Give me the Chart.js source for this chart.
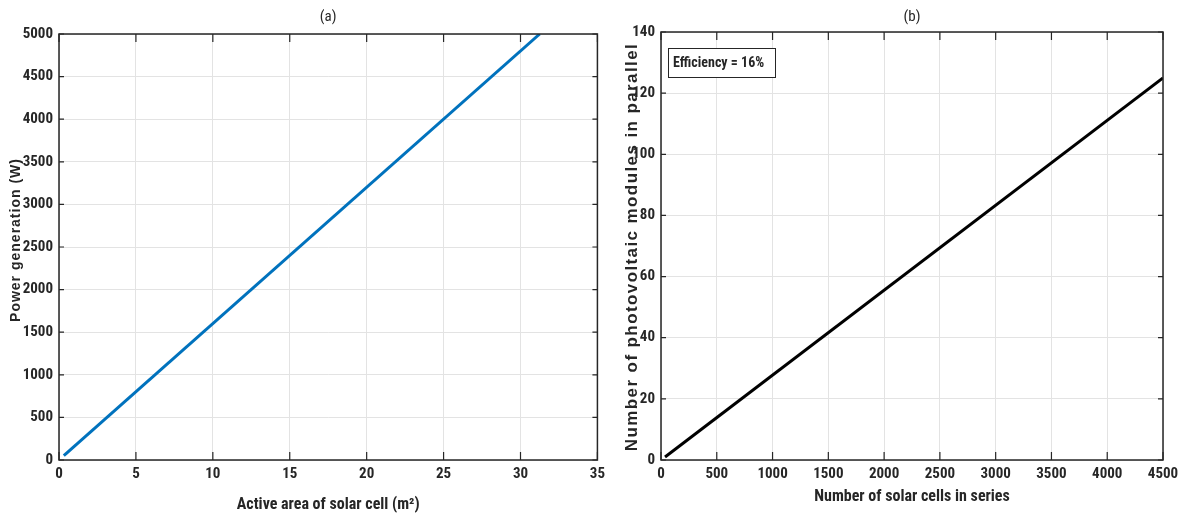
<!DOCTYPE html>
<html><head><meta charset="utf-8">
<script src="https://cdn.jsdelivr.net/npm/chart.js@4.4.0/dist/chart.umd.min.js"></script>
<style>
html,body{margin:0;padding:0;background:#fff;}
#wrap{position:relative;width:1192px;height:518px;}
#ca{position:absolute;left:0;top:0;}
#cb{position:absolute;left:610px;top:0;}
</style></head><body>
<div id="wrap">
<canvas id="ca" width="610" height="518"></canvas>
<canvas id="cb" width="582" height="518"></canvas>
</div>
<script>
// ---- data ----
const areaX = [0.3125, 31.25];          // m^2
const powerY = [50, 5000];              // W
const cellsX = [36, 4500];              // cells in series
const modulesY = [1, 125];              // modules in parallel
const titleA = '(a)', titleB = '(b)';
const xTitleA = 'Active area of solar cell (m\u00B2)';
const yTitleA = 'Power generation (W)';
const xTitleB = 'Number of solar cells in series';
const yTitleB = 'Number of photovoltaic modules in parallel';
const annotB = 'Efficiency = 16%';

const NARROW = "'Liberation Sans Narrow','Arial Narrow','Roboto Condensed','Liberation Sans',Arial,sans-serif";
const WIDE = "'Liberation Sans',Arial,sans-serif";
const TXT = '#262626';

const matlabPlugin = {
  id: 'matlab',
  afterDraw(chart, args, opts) {
    const ctx = chart.ctx;
    const {left, right, top, bottom} = chart.chartArea;
    const xs = chart.scales.x, ys = chart.scales.y;
    ctx.save();
    ctx.strokeStyle = TXT;
    ctx.lineWidth = 1.5;
    ctx.strokeRect(left, top, right - left, bottom - top);
    ctx.lineWidth = 1.2;
    ctx.beginPath();
    xs.ticks.forEach(t => {
      const p = xs.getPixelForValue(t.value);
      ctx.moveTo(p, bottom); ctx.lineTo(p, bottom - 8);
      ctx.moveTo(p, top); ctx.lineTo(p, top + 8);
    });
    ys.ticks.forEach(t => {
      const p = ys.getPixelForValue(t.value);
      ctx.moveTo(left, p); ctx.lineTo(left + 5, p);
      ctx.moveTo(right, p); ctx.lineTo(right - 5, p);
    });
    ctx.stroke();
    // title
    ctx.fillStyle = TXT;
    ctx.font = "15px " + NARROW;
    ctx.textAlign = 'center'; ctx.textBaseline = 'middle';
    ctx.fillText(opts.title, (left + right) / 2, 17);
    // y title
    ctx.save();
    ctx.translate(opts.yTitleX, (top + bottom) / 2 + opts.yTitleDy);
    ctx.rotate(-Math.PI / 2);
    ctx.font = "bold " + opts.yTitleSize + "px " + WIDE;
    ctx.letterSpacing = opts.yTitleSpacing + 'px';
    ctx.fillText(opts.yTitle, 0, 0);
    ctx.restore();
    // annotation
    if (opts.annot) {
      const bx = left + 7, by = top + 16, bw = 107, bh = 29;
      ctx.fillStyle = '#fff';
      ctx.fillRect(bx, by, bw, bh);
      ctx.strokeStyle = TXT; ctx.lineWidth = 1;
      ctx.strokeRect(bx + 0.5, by + 0.5, bw, bh);
      ctx.fillStyle = TXT;
      ctx.font = "bold 14px " + NARROW;
      ctx.textAlign = 'left';
      ctx.fillText(opts.annot, bx + 5, by + bh / 2 + 1);
    }
    ctx.restore();
  }
};

function makeChart(id, xs, ys, color, xmin, xmax, xstep, ymin, ymax, ystep, pad, yAxisW, xTitle, pluginOpts) {
  const plain = v => String(v);
  return new Chart(document.getElementById(id), {
    type: 'line',
    data: { datasets: [{ data: xs.map((v, i) => ({x: v, y: ys[i]})), borderColor: color, borderWidth: 3, pointRadius: 0, tension: 0, fill: false }] },
    options: {
      responsive: false, animation: false, events: [],
      layout: { padding: pad },
      plugins: { legend: {display: false}, tooltip: {enabled: false}, title: {display: false}, matlab: pluginOpts },
      scales: {
        x: { type: 'linear', min: xmin, max: xmax,
             ticks: { stepSize: xstep, callback: plain, color: TXT, font: {family: NARROW, size: 15, weight: 'bold'}, padding: 5, maxRotation: 0, autoSkip: false },
             grid: { color: '#e3e3e3', drawTicks: false, lineWidth: 1 }, border: {display: false},
             title: { display: true, text: xTitle, color: TXT, font: {family: NARROW, size: 16, weight: 'bold'}, padding: {top: 8, bottom: 0} },
             afterFit: s => { s.height = 518 - 460 - pad.bottom; } },
        y: { type: 'linear', min: ymin, max: ymax,
             ticks: { stepSize: ystep, callback: plain, color: TXT, font: {family: NARROW, size: 15, weight: 'bold'}, padding: 6, autoSkip: false },
             grid: { color: '#e3e3e3', drawTicks: false, lineWidth: 1 }, border: {display: false},
             afterFit: s => { s.width = yAxisW; } }
      }
    },
    plugins: [matlabPlugin]
  });
}

makeChart('ca', areaX, powerY, '#0072BD', 0, 35, 5, 0, 5000, 500,
  {left: 0, right: 7, top: 34, bottom: 3}, 59, xTitleA,
  {title: titleA, yTitle: yTitleA, yTitleX: 16, yTitleDy: -7, yTitleSize: 14, yTitleSpacing: 1});
makeChart('cb', cellsX, modulesY, '#000000', 0, 4500, 500, 0, 140, 20,
  {left: 0, right: 29, top: 32, bottom: 11}, 51, xTitleB,
  {title: titleB, yTitle: yTitleB, yTitleX: 22, yTitleDy: 1, yTitleSize: 17, yTitleSpacing: 1.4, annot: annotB});
</script>
</body></html>
